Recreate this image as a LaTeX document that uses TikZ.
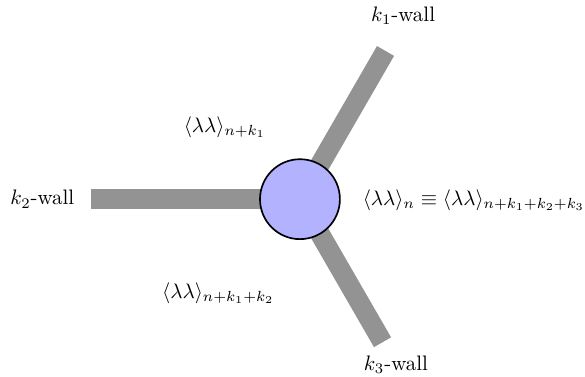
\documentclass[tikz,border=0pt]{standalone}
\begin{document}
\begin{tikzpicture}[
    wall/.style={gray!85, line width=9.4pt},
    vacuum/.style={circle, draw, thick, fill=blue!30, minimum size=1.34cm, inner sep=0pt},
    wlabel/.style={font=\normalsize}
]
    \useasboundingbox (-5.03, -2.98) rectangle (4.78, 3.34);

    % Centre i extrems de les parets
    \coordinate (c) at (0, 0);
    \coordinate (w1) at (60:2.87);
    \coordinate (w2) at (-3.5, 0);
    \coordinate (w3) at (-60:2.77);

    % Parets
    \draw[wall] (c) -- (w1);
    \draw[wall] (c) -- (w2);
    \draw[wall] (c) -- (w3);

    % Unio
    \node[vacuum] (junction) at (c) {};

    % Etiquetes de les parets
    \node[wlabel] (l1) at (1.73, 3.08) {$k_1$-wall};
    \node[wlabel] (l2) at (-4.32, 0) {$k_2$-wall};
    \node[wlabel] (l3) at (1.61, -2.78) {$k_3$-wall};

    % Buits
    \node (v1) at (-1.26, 1.21) {$\langle\lambda\lambda\rangle_{n+k_1}$};
    \node (v2) at (-1.37, -1.58) {$\langle\lambda\lambda\rangle_{n+k_1+k_2}$};
    \node[anchor=west] (v0) at (0.93, -0.02) {$\langle\lambda\lambda\rangle_{n}\equiv\langle\lambda\lambda\rangle_{n+k_1+k_2+k_3}$};
\end{tikzpicture}
\end{document}
